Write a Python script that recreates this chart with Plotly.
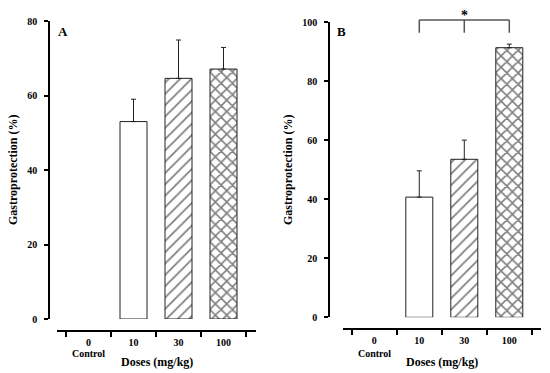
import plotly.graph_objects as go

# ---- data ----
cat_pos = [0, 1, 2, 3]
cat_labels = ["0", "10", "30", "100"]
dose_pos = [1, 2, 3]
patterns = ["", "/", "x"]

a_mean = [53.0, 64.6, 67.1]
a_sem = [6.0, 10.3, 5.8]
b_mean = [40.7, 53.5, 91.3]
b_sem = [8.9, 6.5, 1.2]

a_yticks = [0, 20, 40, 60, 80]
b_yticks = [0, 20, 40, 60, 80, 100]
boundaries = [-0.5, 0.5, 1.5, 2.5, 3.5]

W, H = 550, 373
def px(x):
    return x / W
def py(y):
    return 1 - y / H

FONT = "Liberation Serif"
tickfont = dict(family=FONT, size=10, color="black", weight="bold")

fig = go.Figure()

def add_bars(xa, ya, mean, sem):
    fig.add_trace(go.Bar(
        x=dose_pos, y=mean, width=0.6, xaxis=xa, yaxis=ya,
        marker=dict(color="white", line=dict(color="#222", width=1),
                    pattern=dict(shape=patterns, fgcolor="black", bgcolor="white",
                                 size=8, solidity=[0.2, 0.22, 0.36])),
        error_y=dict(type="data", array=sem, arrayminus=[0]*len(sem), symmetric=False,
                     color="#222", thickness=1, width=2.5),
        showlegend=False))

add_bars("x", "y", a_mean, a_sem)
add_bars("x2", "y2", b_mean, b_sem)

def xaxis_base(dom, rng, pos):
    return dict(domain=dom, range=rng, anchor="free", position=pos,
                showgrid=False, zeroline=False, automargin=False)

a_dom = [px(57), px(256)]
a_rng = [-0.7, 3.722]
a_pos = py(331)
b_dom = [px(342.7), px(540.7)]
b_rng = [-0.702, 3.698]
b_pos = py(329.3)

tick_axis = dict(showline=True, linecolor="black", linewidth=1.5, ticks="outside",
                 ticklen=5, tickwidth=1.5, tickcolor="black", tickvals=boundaries,
                 showticklabels=False)
label_axis = dict(showline=False, ticks="outside", ticklen=2, tickcolor="rgba(0,0,0,0)",
                  tickvals=cat_pos, ticktext=cat_labels, tickfont=tickfont)

def yaxis_base(dom, rng, pos, tv):
    return dict(domain=dom, range=rng, anchor="free", position=pos, showgrid=False,
                zeroline=False, showline=True, linecolor="black", linewidth=1.5,
                ticks="outside", ticklen=4, tickwidth=1.5, tickcolor="black",
                tickvals=tv, tickfont=tickfont, automargin=False, ticklabelstandoff=5)

fig.update_layout(
    width=W, height=H, margin=dict(l=0, r=0, t=0, b=0, pad=0, autoexpand=False),
    paper_bgcolor="white", plot_bgcolor="white", showlegend=False,
    xaxis=dict(**xaxis_base(a_dom, a_rng, a_pos), **tick_axis),
    xaxis3=dict(**xaxis_base(a_dom, a_rng, a_pos), **label_axis, overlaying="x"),
    xaxis2=dict(**xaxis_base(b_dom, b_rng, b_pos), **tick_axis),
    xaxis4=dict(**xaxis_base(b_dom, b_rng, b_pos), **label_axis, overlaying="x2"),
    yaxis=yaxis_base([py(319), py(21)], [0, 80], px(49), a_yticks),
    yaxis2=yaxis_base([py(317.3), py(22)], [0, 100], px(329), b_yticks),
)
# empty traces so the label axes render
fig.add_trace(go.Scatter(x=[None], y=[None], xaxis="x3", yaxis="y", showlegend=False, hoverinfo="skip"))
fig.add_trace(go.Scatter(x=[None], y=[None], xaxis="x4", yaxis="y2", showlegend=False, hoverinfo="skip"))

bold12 = dict(family=FONT, size=12, color="black", weight="bold")
bold10 = dict(family=FONT, size=10, color="black", weight="bold")
C = dict(xanchor="center", yanchor="middle", showarrow=False)

ann = []
for xr, yt_x, panel, lx in [("x", 13, "A", 63), ("x2", 288, "B", 341.7)]:
    ann.append(dict(text="Control", xref=xr, x=0, yref="paper", y=py(353.5), font=bold10, **C))
    ann.append(dict(text="Doses (mg/kg)", xref=xr + " domain", x=0.5, yref="paper", y=py(361.5),
                    font=bold12, **C))
    ann.append(dict(text="Gastroprotection (%)", xref="paper", x=px(yt_x), yref="paper", y=py(170),
                    textangle=-90, font=bold12, **C))
    ann.append(dict(text=panel, xref="paper", x=px(lx), yref="paper", y=py(31),
                    font=dict(family=FONT, size=13, color="black", weight="bold"), **C))
ann.append(dict(text="*", xref="x2", x=2, yref="paper", y=py(15), font=dict(family=FONT, size=14, color="black", weight="bold"), **C))
fig.update_layout(annotations=ann)

br = dict(color="#555", width=1.5)
top, bot = py(20), py(32.7)
shapes = [dict(type="line", xref="x2", yref="paper", x0=1, x1=3, y0=top, y1=top, line=br)]
for xv in dose_pos:
    shapes.append(dict(type="line", xref="x2", yref="paper", x0=xv, x1=xv, y0=top, y1=bot, line=br))
fig.update_layout(shapes=shapes)

fig.write_html("out.html", config={"displayModeBar": False},
               post_script="document.body.style.margin='0';document.body.style.overflow='hidden';")
